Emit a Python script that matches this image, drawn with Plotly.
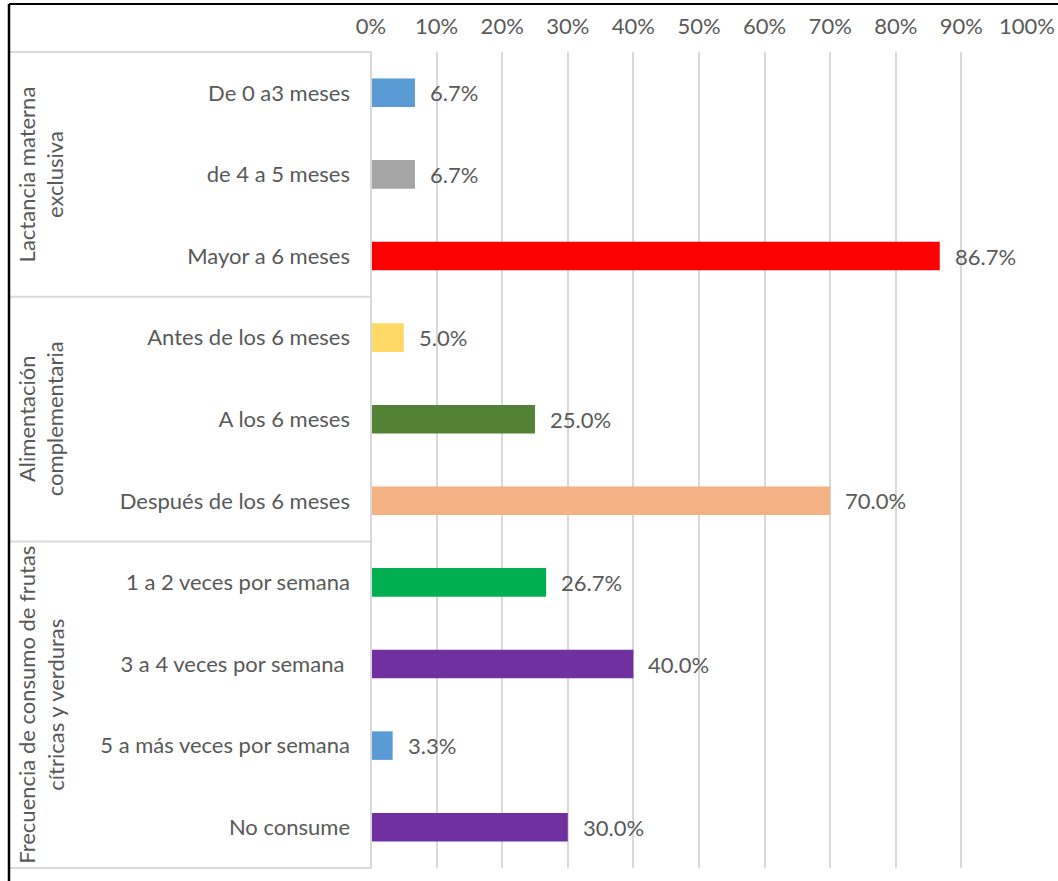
import plotly.graph_objects as go

# Categories, top to bottom
categories = [
    "De 0 a3 meses",
    "de 4 a 5 meses",
    "Mayor a 6 meses",
    "Antes de los 6 meses",
    "A los 6 meses",
    "Después de los 6 meses",
    "1 a 2 veces por semana",
    "3 a 4 veces por semana ",
    "5 a más veces por semana",
    "No consume",
]
values = [6.7, 6.7, 86.7, 5.0, 25.0, 70.0, 26.7, 40.0, 3.3, 30.0]
bar_colors = [
    "#5B9BD5", "#A5A5A5", "#FF0000",
    "#FFD966", "#548235", "#F4B183",
    "#00B050", "#7030A0", "#5B9BD5", "#7030A0",
]
groups = [
    "Lactancia materna<br>exclusiva",
    "Alimentación<br>complementaria",
    "Frecuencia de consumo de frutas<br>cítricas y verduras",
]
group_sizes = [3, 3, 4]
x_ticks = list(range(0, 101, 10))

FONT = "Lato"
TXT = "#595959"
GRID = "#D9D9D9"
FS = 22

W, H = 1058, 881
L, R, T, B = 371, 31, 52, 13
pw, ph = W - L - R, H - T - B


def px_x(px):
    return (px - L) / pw


def px_y(py):
    return (H - B - py) / ph


fig = go.Figure(
    go.Bar(
        x=values,
        y=categories,
        orientation="h",
        marker=dict(color=bar_colors, line=dict(width=0)),
        width=0.35,
        hoverinfo="skip",
    )
)

# value labels to the right of each bar
for cat, v in zip(categories, values):
    fig.add_annotation(
        x=v, y=cat, xref="x", yref="y",
        text=f"{v:.1f}%", showarrow=False,
        xanchor="left", xshift=13,
        font=dict(family=FONT, size=FS, color=TXT),
    )

shapes = []
# row-group separators in the category area
n = len(categories)
bounds = [0]
for s in group_sizes:
    bounds.append(bounds[-1] + s)
for b in bounds:
    yp = 1 - b / n
    shapes.append(dict(type="line", xref="paper", yref="paper",
                       x0=px_x(10), x1=0, y0=yp, y1=yp,
                       line=dict(color=GRID, width=2)))
# category axis line
shapes.append(dict(type="line", xref="paper", yref="paper",
                   x0=0, x1=0, y0=0, y1=1,
                   line=dict(color=GRID, width=2)))
# outer frame edges
shapes.append(dict(type="line", xref="paper", yref="paper",
                   x0=px_x(9), x1=px_x(W + 5), y0=px_y(4), y1=px_y(4),
                   line=dict(color="black", width=2)))
shapes.append(dict(type="line", xref="paper", yref="paper",
                   x0=px_x(9), x1=px_x(9), y0=px_y(4), y1=px_y(H + 5),
                   line=dict(color="black", width=2.5)))

# group titles, rotated
for i, (g, s) in enumerate(zip(groups, group_sizes)):
    yc = 1 - (bounds[i] + s / 2) / n
    fig.add_annotation(
        x=px_x(41), y=yc, xref="paper", yref="paper",
        text=g, showarrow=False, textangle=-90,
        xanchor="center", yanchor="middle",
        font=dict(family=FONT, size=FS, color=TXT),
    )

fig.update_layout(
    width=W, height=H,
    margin=dict(l=L, r=R, t=T, b=B, pad=0, autoexpand=False),
    paper_bgcolor="white", plot_bgcolor="white",
    showlegend=False,
    shapes=shapes,
    font=dict(family=FONT, size=FS, color=TXT),
    bargap=0.65,
    xaxis=dict(
        side="top", range=[0, 100], automargin=False,
        tickvals=x_ticks, ticktext=[f"{t}%" for t in x_ticks],
        showgrid=True, gridcolor=GRID, gridwidth=2,
        zeroline=False, showline=False, ticks="",
        ticklabelstandoff=13,
        tickfont=dict(family=FONT, size=FS, color=TXT),
    ),
    yaxis=dict(
        categoryorder="array", categoryarray=categories,
        autorange="reversed", automargin=False,
        showgrid=False, zeroline=False, showline=False, ticks="",
        ticklabelstandoff=20,
        tickfont=dict(family=FONT, size=FS, color=TXT),
    ),
)

fig.write_html("out.html")
